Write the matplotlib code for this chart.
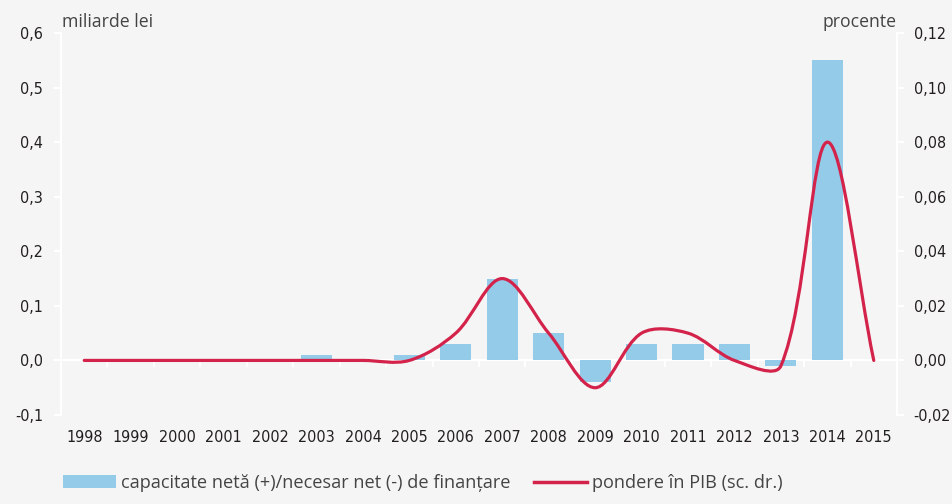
import numpy as np
import matplotlib.pyplot as plt
from matplotlib.path import Path
from matplotlib.patches import PathPatch, Patch
from matplotlib.lines import Line2D

years = [str(y) for y in range(1998, 2016)]
capacitate = [0.0, 0.0, 0.0, 0.0, 0.0, 0.01, 0.0, 0.01, 0.03, 0.15,
              0.05, -0.04, 0.03, 0.03, 0.03, -0.01, 0.55, 0.0]
pondere = [0.0, 0.0, 0.0, 0.0, 0.0, 0.0, 0.0, 0.0, 0.01, 0.03,
           0.01, -0.01, 0.01, 0.01, 0.0, -0.002, 0.08, 0.0]

left_ticks = [-0.1, 0.0, 0.1, 0.2, 0.3, 0.4, 0.5, 0.6]
right_ticks = [-0.02, 0.0, 0.02, 0.04, 0.06, 0.08, 0.10, 0.12]

BG = '#f5f5f5'
BAR = '#94cbe8'
LINE = '#d4234b'
TXT = '#231f20'
GREY = '#444444'


def smooth_path(x, y, sx, sy):
    # smoothed line like the office charts: bezier whose control arms are
    # weighted by the chord lengths, worked out in pixel space
    pts = np.column_stack([np.asarray(x, float) * sx, np.asarray(y, float) * sy])
    n = len(pts)
    d = np.hypot(*np.diff(pts, axis=0).T)
    verts = [pts[0]]
    codes = [Path.MOVETO]
    for i in range(n - 1):
        p1, p2 = pts[i], pts[i + 1]
        if i > 0:
            t1 = (pts[i + 1] - pts[i - 1]) * d[i] / (d[i - 1] + d[i]) / 3.0
        else:
            t1 = (p2 - p1) / 3.0
        if i + 2 < n:
            t2 = (pts[i + 2] - pts[i]) * d[i] / (d[i] + d[i + 1]) / 3.0
        else:
            t2 = (p2 - p1) / 3.0
        verts += [p1 + t1, p2 - t2, p2]
        codes += [Path.CURVE4] * 3
    verts = np.array(verts) / [sx, sy]
    return Path(verts, codes)


fig = plt.figure(figsize=(9.53, 5.04), dpi=100, facecolor=BG)
ax = fig.add_axes([61 / 953, 1 - 415 / 504, 836 / 953, 382 / 504])
ax.set_facecolor(BG)
ax2 = ax.twinx()

xs = np.arange(len(years))
ax.bar(xs, capacitate, width=0.67, color=BAR, zorder=2)
ax.set_xlim(-0.5, len(years) - 0.5)
ax.set_ylim(-0.1, 0.6)
ax.set_yticks(left_ticks)
ax.set_yticklabels([f'{v:.1f}'.replace('.', ',') for v in left_ticks])

ax2.set_ylim(-0.02, 0.12)
ax2.set_yticks(right_ticks)
ax2.set_yticklabels([f'{v:.2f}'.replace('.', ',') for v in right_ticks])
sx = 836 / len(years)
sy = 382 / 0.14
ax2.add_patch(PathPatch(smooth_path(xs, pondere, sx, sy), facecolor='none',
                        edgecolor=LINE, lw=2.3, capstyle='round', zorder=3))

for a in (ax, ax2):
    a.spines['top'].set_visible(False)
    for s in ('left', 'right', 'bottom'):
        a.spines[s].set_color('white')
        a.spines[s].set_linewidth(1.5)
ax2.spines['bottom'].set_visible(False)
ax.spines['bottom'].set_position(('data', 0))
ax.spines['bottom'].set_zorder(1)

ax.set_xticks(xs)
ax.set_xticklabels(years)
ax.set_xticks(np.arange(0.5, len(years) - 1), minor=True)
ax.tick_params(axis='x', which='major', length=0, pad=50)
ax.tick_params(axis='x', which='minor', length=5, width=1.5, color='white')
ax.tick_params(axis='y', length=5, width=1.5, color='white', pad=8)
ax2.tick_params(axis='y', length=5, width=1.5, color='white', pad=7)
for lab in ax.get_xticklabels() + ax.get_yticklabels() + ax2.get_yticklabels():
    lab.set_family('DejaVu Sans')
    lab.set_stretch('condensed')
    lab.set_fontsize(11.5)
    lab.set_color(TXT)

fig.text(62 / 953, 1 - 27 / 504, 'miliarde lei', fontsize=12.7, color=GREY,
         family='Open Sans', va='baseline', ha='left')
fig.text(897 / 953, 1 - 27 / 504, 'procente', fontsize=12.7, color=GREY,
         family='Open Sans', va='baseline', ha='right')

handles = [Patch(facecolor=BAR, edgecolor='none'),
           Line2D([], [], color=LINE, lw=2.5)]
labels = ['capacitate netă (+)/necesar net (-) de finanțare',
          'pondere în PIB (sc. dr.)']
fig.legend(handles, labels, loc='center left', bbox_to_anchor=(63 / 953, 1 - 483 / 504),
           ncol=2, frameon=False, borderpad=0, borderaxespad=0,
           handlelength=2.9, handleheight=0.7, handletextpad=0.28,
           columnspacing=1.3, labelcolor=GREY,
           prop={'family': 'Open Sans', 'size': 13.1})

fig.savefig('out.png', dpi=100, facecolor=BG)
